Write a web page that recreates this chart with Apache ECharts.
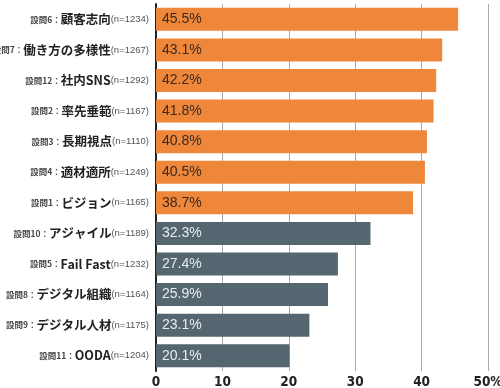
<!DOCTYPE html>
<html><head><meta charset="utf-8">
<script src="https://cdn.jsdelivr.net/npm/echarts@6/dist/echarts.min.js"></script>
<style>html,body{margin:0;padding:0;background:#fff}#c{width:500px;height:388px}</style>
</head><body><div id="c"></div>
<script>
const questions = ['設問6', '設問7', '設問12', '設問2', '設問3', '設問4', '設問1', '設問10', '設問5', '設問8', '設問9', '設問11'];
const titles = ['顧客志向', '働き方の多様性', '社内SNS', '率先垂範', '長期視点', '適材適所', 'ビジョン', 'アジャイル', 'Fail Fast', 'デジタル組織', 'デジタル人材', 'OODA'];
const sampleSizes = [1234, 1267, 1292, 1167, 1110, 1249, 1165, 1189, 1232, 1164, 1175, 1204];
const values = [45.5, 43.1, 42.2, 41.8, 40.8, 40.5, 38.7, 32.3, 27.4, 25.9, 23.1, 20.1];
const groups = ['top', 'top', 'top', 'top', 'top', 'top', 'top', 'low', 'low', 'low', 'low', 'low'];
const xTicks = ['0', '10', '20', '30', '40', '50%'];

const barColor = {top: '#EF873A', low: '#566670'};
const textColor = {top: '#3a2a20', low: '#e8ecee'};

const chart = echarts.init(document.getElementById('c'));
chart.setOption({
  animation: false,
  grid: {left: 156, right: 12, top: 4, bottom: 17, containLabel: false, outerBoundsMode: 'none'},
  xAxis: {
    type: 'value', min: 0, max: 50, interval: 10,
    axisLine: {show: false},
    axisTick: {show: false},
    splitLine: {show: true, lineStyle: {color: '#a8a8a8', width: 1}},
    axisLabel: {
      margin: 4,
      fontFamily: 'DejaVu Sans Condensed', fontWeight: 'bold', fontSize: 13.5, color: '#222',
      formatter: v => xTicks[Math.round(v / 10)]
    }
  },
  yAxis: {
    type: 'category', inverse: true,
    data: titles.map((t, i) => i),
    axisLine: {show: true, onZero: false, lineStyle: {color: '#222', width: 2}},
    axisTick: {show: false},
    axisLabel: {
      margin: 7,
      formatter: (v) => {
        const i = +v;
        return '{a|' + questions[i] + '：}{b|' + titles[i] + '}{c|(n=' + sampleSizes[i] + ')}';
      },
      rich: {
        a: {fontFamily: 'Noto Sans CJK JP', fontWeight: 'bold', fontSize: 8.5, color: '#444'},
        b: {fontFamily: 'Noto Sans CJK JP', fontWeight: 'bold', fontSize: 12.5, color: '#222'},
        c: {fontFamily: 'Liberation Sans', fontSize: 9.5, color: '#555'}
      }
    }
  },
  series: [{
    type: 'bar',
    barWidth: 23,
    data: values.map((v, i) => ({
      value: v,
      itemStyle: {color: barColor[groups[i]]},
      label: {color: textColor[groups[i]]}
    })),
    label: {
      show: true, position: 'insideLeft', distance: 6,
      fontFamily: 'Liberation Sans', fontSize: 14,
      formatter: p => p.value.toFixed(1) + '%'
    }
  }]
});
</script></body></html>
